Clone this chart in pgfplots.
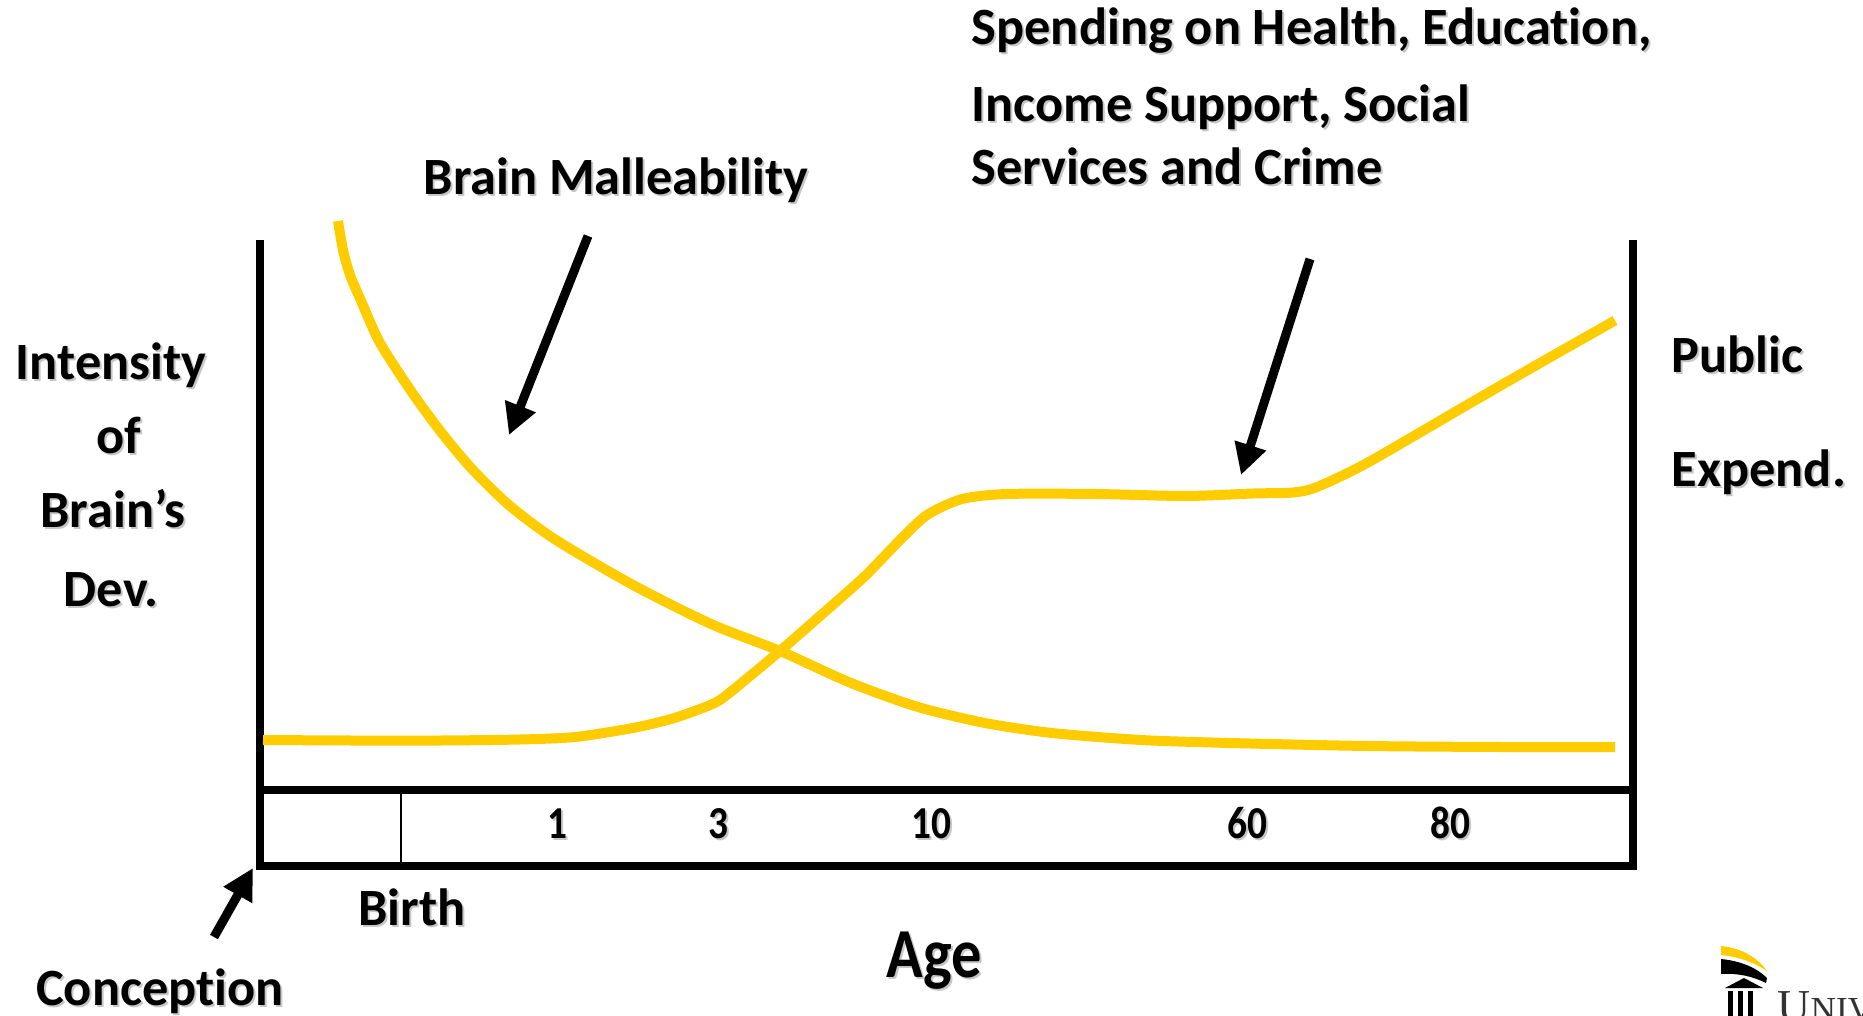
\documentclass[border=0pt]{standalone}
\usepackage{pgfplots}
\pgfplotsset{compat=1.18}
\usetikzlibrary{arrows.meta}
\usepackage{fontspec}
\setmainfont{Carlito}[Ligatures={NoCommon}]
\newfontfamily\condfont{Carlito}[FakeStretch=0.86]
\newfontfamily\logofont{Liberation Serif}
\definecolor{gold}{RGB}{255,204,0}
\definecolor{shadowc}{gray}{0.78}
\newcommand{\mf}{\fontsize{14.9}{18}\selectfont\bfseries}
\newcommand{\tf}{\condfont\fontsize{13}{15}\selectfont\bfseries}
\newcommand{\af}{\condfont\fontsize{20}{24}\selectfont\bfseries}
\newcommand{\txt}[4][]{%
  \node[inner sep=0pt, text=shadowc, #1, xshift=0.2mm, yshift=-0.2mm] at (axis cs:#2,#3) {#4};
  \node[inner sep=0pt, #1] at (axis cs:#2,#3) {#4};}

\pgfplotstableread{
x y
338 221
343 250
350 275
362 303
380 343
411 391
441 432
472 469
510 506
556 540
633 585
711 624
780 651
851 683
918 707
985 723
1052 733
1141 740
1230 743
1367 746
1500 747
1615 747
}\brain

\pgfplotstableread{
x y
263 740
350 740.5
441 740.5
520 739.5
575 737
633 728
671 719
700 709
720 700
750 676
780 651
820 616
864 577
900 540
927 515
962 499
1007 494
1096 494
1186 496
1253 493.5
1293 492.5
1317 487
1367 463
1467 405
1533 367
1615 320.5
}\public

\begin{document}
\begin{tikzpicture}
\begin{axis}[hide axis, x=0.1mm, y=0.1mm, y dir=reverse,
  xmin=0, xmax=1863, ymin=0, ymax=1016, clip=false,
  at={(0,0)}, anchor=south west]
\coordinate (LL) at (axis cs:0,1016);
\coordinate (UR) at (axis cs:1863,0);

% frame
\draw[line width=0.75mm, line join=miter] (axis cs:260,240) -- (axis cs:260,866) -- (axis cs:1633,866) -- (axis cs:1633,240);
\draw[line width=0.75mm] (axis cs:260,790) -- (axis cs:1633,790);
\draw[line width=0.27mm] (axis cs:401,790) -- (axis cs:401,866);

% curves
\addplot[gold, line width=1mm, smooth, tension=0.45, no marks] table[x=x,y=y] {\brain};
\addplot[gold, line width=1mm, smooth, tension=0.45, no marks] table[x=x,y=y] {\public};

% arrows
\draw[line width=0.9mm, -{Triangle[length=3.1mm,width=3.1mm]}] (axis cs:588,236) -- (axis cs:509,435);
\draw[line width=0.9mm, -{Triangle[length=3.1mm,width=3.1mm]}] (axis cs:1310,259) -- (axis cs:1241,475);
\draw[line width=0.9mm, -{Triangle[length=3.1mm,width=3.1mm]}] (axis cs:214,937) -- (axis cs:253,868);

% tick labels
\txt[anchor=base, font=\tf]{557}{839}{1}
\txt[anchor=base, font=\tf]{718}{839}{3}
\txt[anchor=base, font=\tf]{931}{839}{10}
\txt[anchor=base, font=\tf]{1247}{839}{60}
\txt[anchor=base, font=\tf]{1450}{839}{80}

% labels
\txt[anchor=base, font=\mf]{412}{925}{Birth}
\txt[anchor=base, font=\mf]{160}{1005}{Conception}
\txt[anchor=base, font=\af]{934}{977}{Age}
\txt[anchor=base, font=\mf]{111}{380}{Intensity}
\txt[anchor=base, font=\mf]{119}{454}{of}
\txt[anchor=base, font=\mf]{113}{528}{Brain’s}
\txt[anchor=base, font=\mf]{111}{607}{Dev.}
\txt[anchor=base west, font=\mf]{1671}{373}{Public}
\txt[anchor=base west, font=\mf]{1671}{487}{Expend.}
\txt[anchor=base, font=\mf]{616}{195}{Brain Malleability}
\txt[anchor=base west, font=\mf]{971}{45}{Spending on Health, Education,}
\txt[anchor=base west, font=\mf]{971}{122}{Income Support, Social}
\txt[anchor=base west, font=\mf]{971}{185}{Services and Crime}

% logo (partially cut off)
\fill[gold] (axis cs:1721,946) .. controls (axis cs:1742,948) and (axis cs:1758,958) .. (axis cs:1767,971)
  .. controls (axis cs:1755,963) and (axis cs:1740,957) .. (axis cs:1721,955) -- cycle;
\fill[black] (axis cs:1721,959) .. controls (axis cs:1741,961) and (axis cs:1757,968) .. (axis cs:1767,978)
  -- (axis cs:1766,983) .. controls (axis cs:1752,976) and (axis cs:1737,973) .. (axis cs:1721,974) -- cycle;
\fill[black] (axis cs:1725,988) -- (axis cs:1744,978) -- (axis cs:1763,988) -- cycle;
\fill[black] (axis cs:1728,991) rectangle (axis cs:1733,1016);
\fill[black] (axis cs:1738,991) rectangle (axis cs:1743,1016);
\fill[black] (axis cs:1748,991) rectangle (axis cs:1753,1016);
\node[inner sep=0pt, anchor=base west, text=black!80] at (axis cs:1777,1021)
  {\logofont\fontsize{13}{15}\selectfont U\fontsize{10}{12}\selectfont NIV};
\end{axis}
\pgfresetboundingbox
\useasboundingbox (LL) rectangle (UR);
\end{tikzpicture}
\end{document}
